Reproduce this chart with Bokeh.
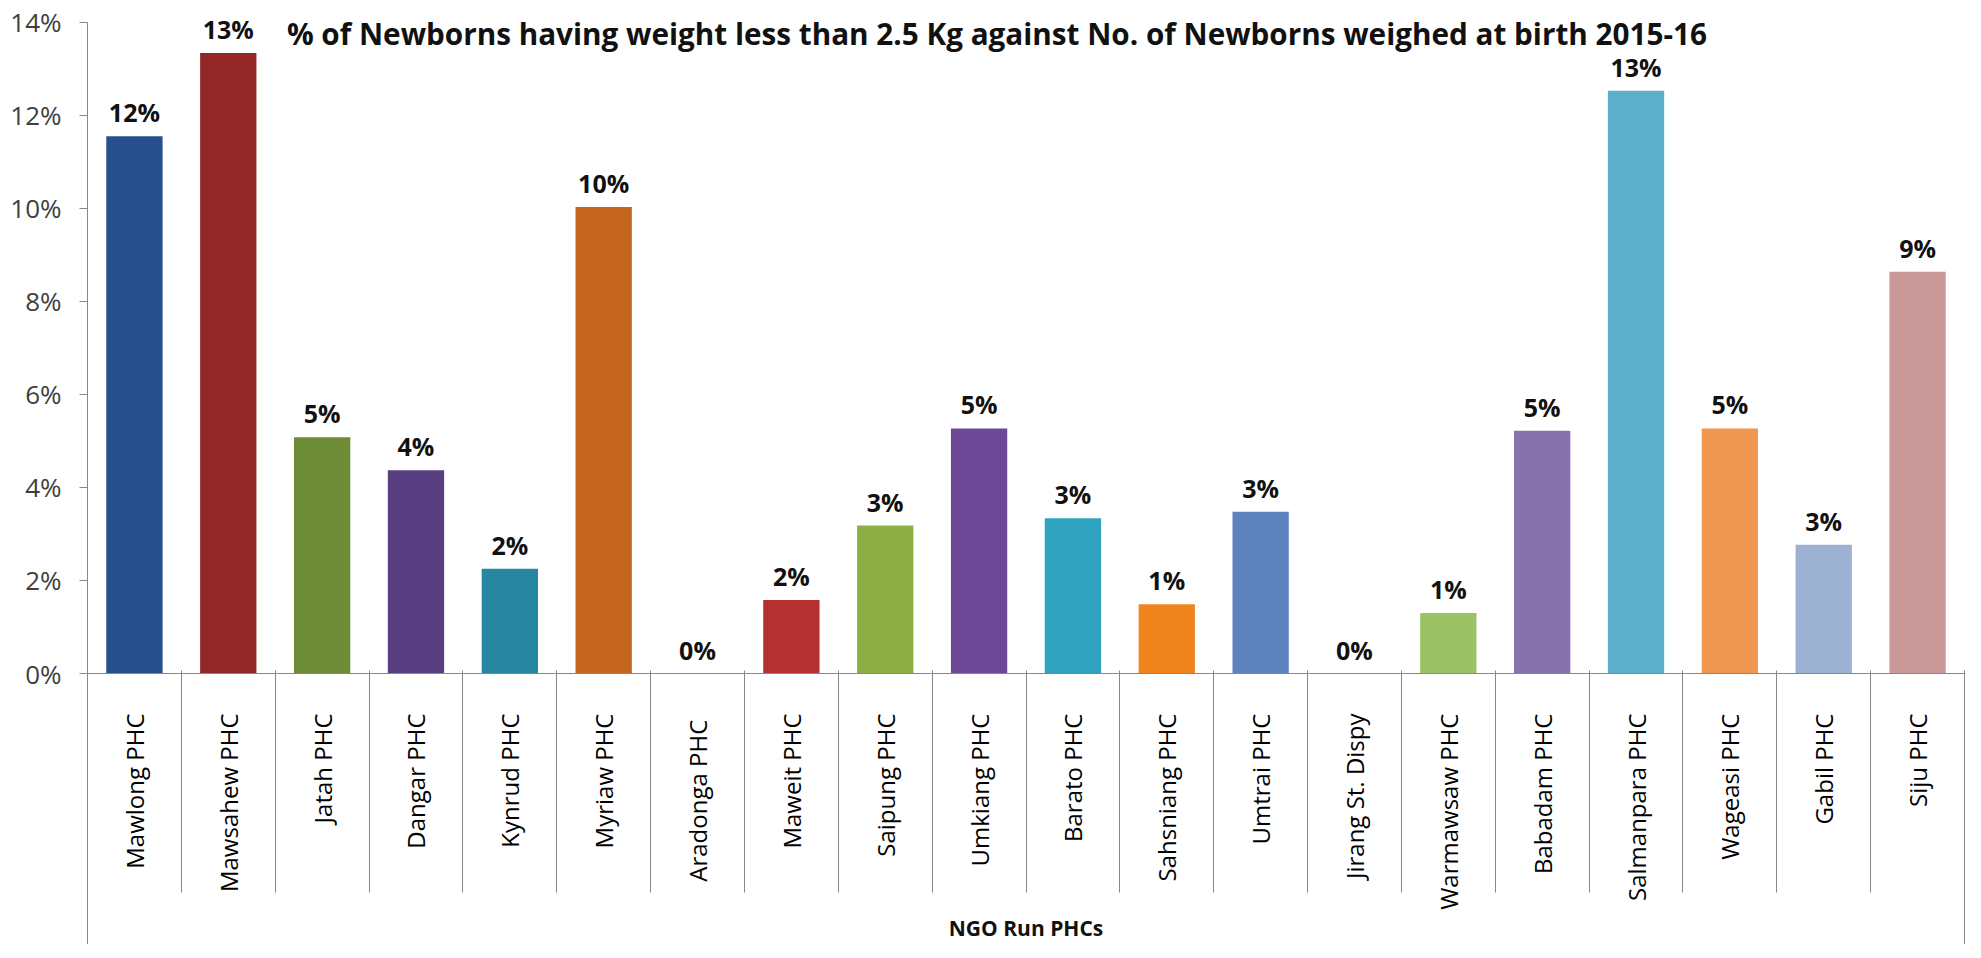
import math
from bokeh.plotting import figure
from bokeh.models import (Range1d, FixedTicker, NumeralTickFormatter,
                          LinearAxis, ColumnDataSource, Label, CustomJSTickFormatter)
from bokeh.embed import file_html
from bokeh.resources import INLINE
from bokeh.core.properties import value

# ---------------- data ----------------
categories = ["Mawlong PHC", "Mawsahew PHC", "Jatah PHC", "Dangar PHC", "Kynrud PHC",
              "Myriaw PHC", "Aradonga  PHC", "Maweit PHC", "Saipung PHC", "Umkiang PHC",
              "Barato PHC", "Sahsniang PHC", "Umtrai PHC", "Jirang St. Dispy", "Warmawsaw PHC",
              "Babadam PHC", "Salmanpara PHC", "Wageasi PHC", "Gabil PHC", "Siju PHC"]
values = [0.1155, 0.1334, 0.0508, 0.0437, 0.0225, 0.1003, 0.0, 0.0158, 0.0318, 0.0527,
          0.0334, 0.0149, 0.0348, 0.0, 0.0130, 0.0522, 0.1253, 0.0527, 0.0277, 0.0864]
bar_colors = ["#25508c", "#932626", "#6e8c35", "#583f82", "#2787a0",
              "#c46620", "#4f81bd", "#b53030", "#8cae42", "#6c4896",
              "#2fa2c0", "#f0841f", "#5d82be", "#8064a2", "#9bc264",
              "#8872ab", "#5cb0c9", "#f09752", "#9cb0d2", "#c99898"]
y_ticks = [0.0, 0.02, 0.04, 0.06, 0.08, 0.10, 0.12, 0.14]
title_text = "% of Newborns having weight less than 2.5 Kg against No. of Newborns weighed at birth 2015-16"
group_label = "NGO Run PHCs"

labels = ["%d%%" % round(v * 100) for v in values]
n = len(categories)
centers = [i + 0.5 for i in range(n)]

FONT = "Open Sans"
AXIS_GRAY = "#868686"
FRAME_H = 666
Y_END = 0.1432

src = ColumnDataSource(dict(x=centers, cat=categories, val=values, color=bar_colors, label=labels))

p = figure(x_range=Range1d(0, n), y_range=Range1d(0, Y_END),
           frame_width=1877, frame_height=FRAME_H,
           output_backend="svg", toolbar_location=None,
           min_border_left=87, min_border_right=8, min_border_top=7, min_border_bottom=0)
p.background_fill_color = "white"
p.border_fill_color = "white"
p.outline_line_color = None
p.xgrid.visible = False
p.ygrid.visible = False

p.vbar(x="x", top="val", width=0.6, fill_color="color", line_color=None, source=src)

p.text(x="x", y="val", text="label", source=src, text_align="center",
       text_baseline="alphabetic", y_offset=-24,
       text_font=value(FONT), text_font_style="bold", text_font_size="25px",
       text_color="#111111")

# ---------------- y axis ----------------
ya = p.yaxis[0]
ya.ticker = FixedTicker(ticks=y_ticks)
ya.formatter = NumeralTickFormatter(format="0%")
ya.bounds = (0, y_ticks[-1])
ya.axis_line_color = AXIS_GRAY
ya.major_tick_line_color = AXIS_GRAY
ya.major_tick_out = 8
ya.major_tick_in = 0
ya.minor_tick_line_color = None
ya.major_label_standoff = 18
ya.major_label_text_font = FONT
ya.major_label_text_font_size = "26px"
ya.major_label_text_color = "#404040"

# ---------------- category axis ----------------
xa = p.xaxis[0]
xa.ticker = FixedTicker(ticks=centers)
xa.formatter = CustomJSTickFormatter(args=dict(names=categories),
                                     code="return names[Math.floor(tick)]")
xa.major_label_orientation = math.pi / 2
xa.major_tick_line_color = None
xa.minor_tick_line_color = None
xa.major_tick_out = 0
xa.major_tick_in = 0
xa.axis_line_color = AXIS_GRAY
xa.major_label_standoff = 40
xa.major_label_text_font = FONT
xa.major_label_text_font_size = "24px"
xa.major_label_text_color = "#000000"

# ---------------- separators + group label ----------------
sep = LinearAxis(ticker=FixedTicker(ticks=list(range(n + 1)), minor_ticks=[0, n]),
                 formatter=CustomJSTickFormatter(code="return ''"),
                 axis_line_color=None,
                 major_tick_line_color=AXIS_GRAY, major_tick_in=242, major_tick_out=-20,
                 minor_tick_line_color=AXIS_GRAY, minor_tick_in=242, minor_tick_out=45,
                 major_label_standoff=0, major_label_text_font_size="1px",
                 axis_label=group_label, axis_label_standoff=-44,
                 axis_label_text_font=FONT, axis_label_text_font_style="bold",
                 axis_label_text_font_size="21px", axis_label_text_color="#111111")
p.add_layout(sep, "below")

# ---------------- title ----------------
title_y = Y_END - 26 * (Y_END / FRAME_H)
p.add_layout(Label(x=n * 0.4845, y=title_y, text=title_text,
                   text_align="center", text_baseline="alphabetic",
                   text_font=FONT, text_font_style="bold", text_font_size="29.7px",
                   text_color="#111111"))

open("out.html", "w").write(file_html(p, INLINE))
